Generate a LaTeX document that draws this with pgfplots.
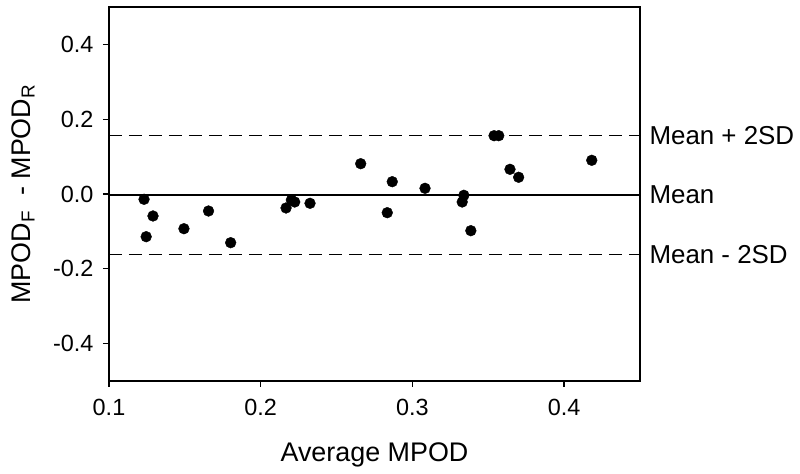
\documentclass[border=0pt]{standalone}
\usepackage{pgfplots}
\pgfplotsset{compat=1.18}
\usepackage{fontspec}
\setmainfont{Liberation Sans}
\begin{document}
\begin{tikzpicture}
\begin{axis}[
  scale only axis,
  width=531bp, height=374bp,
  xmin=0.1, xmax=0.45, ymin=-0.5, ymax=0.5,
  xtick={0.1,0.2,0.3,0.4},
  ytick={-0.4,-0.2,0,0.2,0.4},
  tick align=outside,
  major tick length=6bp,
  xtick pos=bottom, ytick pos=left,
  axis line style={line width=1.4bp},
  tick style={line width=1.3bp, black},
  /pgf/number format/assume math mode=true,
  xticklabel style={/pgf/number format/fixed,/pgf/number format/precision=1,/pgf/number format/fixed zerofill, font=\fontsize{23.5}{28}\selectfont, yshift=-9bp},
  yticklabel style={/pgf/number format/fixed,/pgf/number format/precision=1,/pgf/number format/fixed zerofill, font=\fontsize{23.5}{28}\selectfont, xshift=-6bp},
  xlabel={Average MPOD},
  ylabel={MPOD\textsubscript{F}\ \ - MPOD\textsubscript{R}},
  xlabel style={font=\fontsize{27}{32}\selectfont, at={(axis description cs:0.5,-0.198)}, anchor=center},
  ylabel style={font=\fontsize{27}{32}\selectfont, at={(axis description cs:-0.162,0.5)}, anchor=center, rotate=0},
  clip=false,
]
\addplot[black, line width=1.6bp, forget plot] coordinates {(0.1,-0.003) (0.45,-0.003)};
\addplot[black, line width=1.6bp, dash pattern=on 13bp off 7bp, forget plot] coordinates {(0.1,0.156) (0.45,0.156)};
\addplot[black, line width=1.6bp, dash pattern=on 13bp off 7bp, forget plot] coordinates {(0.1,-0.162) (0.45,-0.162)};
\addplot[only marks, mark=*, mark size=5.4bp, black] coordinates {
(0.1231,-0.0142)
(0.1245,-0.1142)
(0.1290,-0.0588)
(0.1494,-0.0928)
(0.1656,-0.0455)
(0.1802,-0.1302)
(0.2167,-0.0374)
(0.2202,-0.0160)
(0.2224,-0.0214)
(0.2325,-0.0249)
(0.2659,0.0810)
(0.2834,-0.0500)
(0.2867,0.0329)
(0.3083,0.0152)
(0.3328,-0.0214)
(0.3339,-0.0035)
(0.3385,-0.0981)
(0.3538,0.1559)
(0.3569,0.1559)
(0.3643,0.0660)
(0.3700,0.0447)
(0.4182,0.0901)
};
\node[anchor=west, font=\fontsize{26}{30}\selectfont] at (axis cs:0.45,0.156) {\hspace{6bp}Mean + 2SD};
\node[anchor=west, font=\fontsize{26}{30}\selectfont] at (axis cs:0.45,-0.003) {\hspace{6bp}Mean};
\node[anchor=west, font=\fontsize{26}{30}\selectfont] at (axis cs:0.45,-0.162) {\hspace{6bp}Mean - 2SD};
\path (rel axis cs:0,0) ++(-109bp,-93bp) coordinate (bl);
\path (rel axis cs:1,1) ++(160bp,7bp) coordinate (tr);
\path (bl) rectangle (tr);
\end{axis}
\end{tikzpicture}
\end{document}
